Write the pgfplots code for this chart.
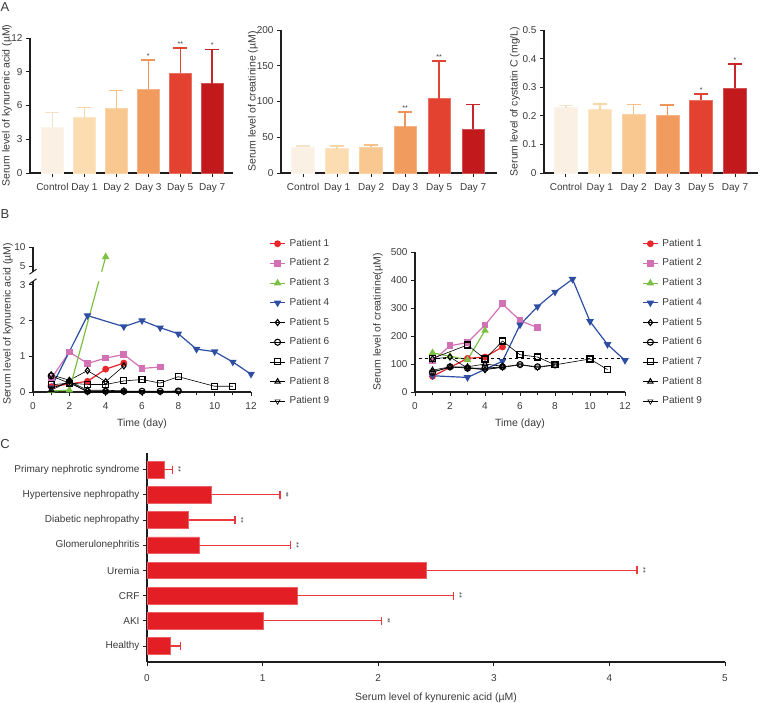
\documentclass[border=0pt]{standalone}
\usepackage{fontspec}
\setmainfont{Liberation Sans}
\usepackage{pgfplots}
\pgfplotsset{compat=1.18}

\definecolor{cA0}{HTML}{FAF0E4}
\definecolor{cA1}{HTML}{FCDDB1}
\definecolor{cA2}{HTML}{F9C790}
\definecolor{cA3}{HTML}{F19B5F}
\definecolor{cA5}{HTML}{E2422F}
\definecolor{cA7}{HTML}{C2191C}
\definecolor{eA0}{HTML}{F4E2CB}
\definecolor{eA1}{HTML}{FAD7A6}
\definecolor{eA2}{HTML}{F7C088}
\definecolor{eA3}{HTML}{F0955A}
\definecolor{eA5}{HTML}{E24434}
\definecolor{eA7}{HTML}{C92428}
\definecolor{pRed}{HTML}{E9262B}
\definecolor{pPink}{HTML}{D272B5}
\definecolor{pGreen}{HTML}{7CC143}
\definecolor{pBlue}{HTML}{2D4EA2}
\definecolor{axc}{HTML}{1E1E1E}
\definecolor{txt}{HTML}{3A3A3A}
\definecolor{barC}{HTML}{E41E25}
\definecolor{errC}{HTML}{EA3A40}

\newcommand{\fs}{\fontsize{10}{12}\selectfont}
\newcommand{\fl}{\fontsize{10.5}{12}\selectfont}

\tikzset{
  astar/.style={font=\fontsize{7}{7}\selectfont, text=txt, anchor=south, inner sep=1pt, yshift=0.5pt},
  cstar/.style={rotate=-90, font=\fontsize{7}{7}\selectfont, text=txt, anchor=south, inner sep=0pt, yshift=-1.5pt},
}

\pgfplotsset{
  common/.style={
    scale only axis, clip=false,
    axis x line*=bottom, axis y line*=left,
    axis line style={-, line width=1.1pt, color=axc},
    tick align=outside,
    major tick length=4pt, minor tick length=2.5pt,
    tick style={line width=1pt, color=axc},
    tick label style={font=\fs, color=txt},
    xticklabel style={yshift=-3pt},
    label style={font=\fl, color=txt},
    xlabel style={yshift=-2pt},
    /pgf/number format/assume math mode=true,
  },
  ylab/.style={ylabel style={at={([xshift=#1]axis description cs:0,0.5)}, anchor=center}},
  Abar/.style 2 args={ybar, bar shift=0pt, fill=#1, draw=#1!75!white, line width=0.6pt,
    /pgfplots/error bars/y dir=plus, /pgfplots/error bars/y explicit,
    /pgfplots/error bars/error bar style={line width=1.5pt, color=#2},
    /pgfplots/error bars/error mark options={rotate=90, line width=1.5pt, color=#2, mark size=7pt}},
  Aaxis/.style={common, anchor=south west, xtick={0,...,5},
    xticklabels={Control, Day 1, Day 2, Day 3, Day 5, Day 7}, ymin=0},
  colser/.style={line width=1.2pt, color=#1, mark options={fill=#1, draw=#1, solid}},
  blkser/.style={line width=0.6pt, color=black, mark size=3pt, mark options={fill=white, draw=black, line width=1.1pt, solid}},
  legB/.style={legend cell align=left,
    legend style={draw=none, fill=none, font=\fs, text=txt, row sep=8.7pt, anchor=north west,
      nodes={inner sep=1pt, text height=7pt, text depth=2pt},
      /tikz/every odd column/.append style={column sep=3pt}},
    legend image code/.code={\draw[mark repeat=2,mark phase=2,##1] plot coordinates {(0pt,0pt) (7.5pt,0pt) (15pt,0pt)};}},
}

\begin{document}
\begin{tikzpicture}
\path[use as bounding box] (0pt,0pt) rectangle (760pt,-702pt);

\node[font=\fontsize{13}{13}\selectfont, text=txt] at (5pt,-7pt) {A};
\node[font=\fontsize{13}{13}\selectfont, text=txt] at (5pt,-214pt) {B};
\node[font=\fontsize{13}{13}\selectfont, text=txt] at (5pt,-444pt) {C};

% ---------- A1 kynurenic acid
\begin{axis}[Aaxis, at={(30pt,-173pt)}, width=203pt, height=135pt, xmin=-0.7, xmax=5.65, ymax=12,
  ytick={0,3,6,9,12}, bar width=22pt, ylabel={Serum level of kynurenic acid (µM)}, ylab=-23pt]
\addplot[Abar={cA0}{eA0}] coordinates {(0,4.05) +- (0,1.35)};
\addplot[Abar={cA1}{eA1}] coordinates {(1,4.93) +- (0,0.90)};
\addplot[Abar={cA2}{eA2}] coordinates {(2,5.72) +- (0,1.60)};
\addplot[Abar={cA3}{eA3}] coordinates {(3,7.43) +- (0,2.62)};
\addplot[Abar={cA5}{eA5}] coordinates {(4,8.90) +- (0,2.19)};
\addplot[Abar={cA7}{eA7}] coordinates {(5,7.93) +- (0,3.07)};
\node[astar] at (axis cs:3,10.05) {*};
\node[astar] at (axis cs:4,11.09) {**};
\node[astar] at (axis cs:5,11.0) {*};
\end{axis}

% ---------- A2 creatinine
\begin{axis}[Aaxis, at={(281pt,-173pt)}, width=216pt, height=143pt, xmin=-0.65, xmax=5.7, ymax=200,
  ytick={0,50,...,200}, bar width=22.7pt, ylabel={Serum level of creatinine (µM)}, ylab=-28pt]
\addplot[Abar={cA0}{eA0}] coordinates {(0,36) +- (0,2)};
\addplot[Abar={cA1}{eA1}] coordinates {(1,34) +- (0,4)};
\addplot[Abar={cA2}{eA2}] coordinates {(2,36) +- (0,3)};
\addplot[Abar={cA3}{eA3}] coordinates {(3,65) +- (0,20)};
\addplot[Abar={cA5}{eA5}] coordinates {(4,104) +- (0,53)};
\addplot[Abar={cA7}{eA7}] coordinates {(5,61) +- (0,35)};
\node[astar] at (axis cs:3,85) {**};
\node[astar] at (axis cs:4,157) {**};
\end{axis}

% ---------- A3 cystatin C
\begin{axis}[Aaxis, at={(544pt,-173pt)}, width=214pt, height=143pt, xmin=-0.65, xmax=5.68, ymax=0.5,
  ytick={0,0.1,...,0.5}, bar width=23pt, ylabel={Serum level of cystatin C (mg/L)}, ylab=-29pt,
  yticklabel style={/pgf/number format/fixed}]
\addplot[Abar={cA0}{eA0}] coordinates {(0,0.228) +- (0,0.008)};
\addplot[Abar={cA1}{eA1}] coordinates {(1,0.222) +- (0,0.020)};
\addplot[Abar={cA2}{eA2}] coordinates {(2,0.205) +- (0,0.035)};
\addplot[Abar={cA3}{eA3}] coordinates {(3,0.202) +- (0,0.036)};
\addplot[Abar={cA5}{eA5}] coordinates {(4,0.255) +- (0,0.022)};
\addplot[Abar={cA7}{eA7}] coordinates {(5,0.296) +- (0,0.086)};
\node[astar] at (axis cs:4,0.277) {*};
\node[astar] at (axis cs:5,0.382) {*};
\end{axis}

% ---------- B left, lower part
\begin{axis}[common, legB, at={(33pt,-392pt)}, anchor=south west, width=218pt, height=110.7pt,
  xmin=0, xmax=12, ymin=0, ymax=3.1, xtick={0,2,...,12}, minor xtick={1,3,...,11}, ytick={0,1,2,3},
  xlabel={Time (day)}, legend style={at={(1.07,1.409)}}]
\addplot[colser=pRed, mark=*, mark size=2.8pt] coordinates {(1,0.15) (3,0.30) (4,0.64) (5,0.81)};
\addlegendentry{Patient 1}
\addplot[colser=pPink, mark=square*, mark size=2.8pt] coordinates {(1,0.37) (2,1.12) (3,0.80) (4,0.95) (5,1.05) (6,0.66) (7,0.70)};
\addlegendentry{Patient 2}
\addplot[colser=pGreen, mark=triangle*, mark size=3.2pt] coordinates {(1,0.03) (2,0.05)};
\addlegendentry{Patient 3}
\addplot[colser=pBlue, mark=triangle*, mark size=3.2pt, mark options={rotate=180}] coordinates {(1,0.12) (3,2.14) (5,1.83) (6,2.00) (7,1.80) (8,1.63) (9,1.20) (10,1.13) (11,0.84) (12,0.50)};
\addlegendentry{Patient 4}
\addplot[blkser, mark=diamond] coordinates {(1,0.48) (2,0.33) (3,0.60) (4,0.29) (5,0.73)};
\addlegendentry{Patient 5}
\addplot[blkser, mark=o] coordinates {(1,0.45) (2,0.25) (3,0.02) (4,0.02) (5,0.02) (6,0.02) (7,0.02) (8,0.03)};
\addlegendentry{Patient 6}
\addplot[blkser, mark=square] coordinates {(1,0.20) (2,0.25) (3,0.21) (4,0.21) (5,0.31) (6,0.35) (7,0.25) (8,0.43) (10,0.16) (11,0.16)};
\addlegendentry{Patient 7}
\addplot[blkser, mark=triangle] coordinates {(1,0.05) (2,0.30) (3,0.05) (4,0.05) (5,0.03)};
\addlegendentry{Patient 8}
\addplot[blkser, mark=triangle, mark options={rotate=180}] coordinates {(1,0.10) (2,0.28) (3,0.0) (4,0.0) (5,0.0) (6,0.0) (7,0.0) (8,0.02)};
\addlegendentry{Patient 9}
\addplot[line width=1.2pt, color=pGreen, no markers, forget plot] coordinates {(2,0.05) (3.62,3.1)};
\draw[axc, line width=1pt] ([xshift=-3.5pt,yshift=-2.5pt]rel axis cs:0,1) -- ([xshift=3.5pt,yshift=2.5pt]rel axis cs:0,1);
\end{axis}

% ---------- B left, upper part
\begin{axis}[common, at={(33pt,-271.7pt)}, anchor=south west, width=218pt, height=24.7pt,
  xmin=0, xmax=12, ymin=3.5, ymax=10, ytick={5,10}, axis x line=none, axis y line*=left]
\addplot[colser=pGreen, mark=triangle*, mark size=3.2pt, mark indices={2}] coordinates {(3.78,3.5) (4,7.4)};
\draw[axc, line width=1pt] ([xshift=-3.5pt,yshift=-2.5pt]rel axis cs:0,0) -- ([xshift=3.5pt,yshift=2.5pt]rel axis cs:0,0);
\end{axis}
\node[rotate=90, font=\fl, text=txt] at (8pt,-324pt) {Serum level of kynurenic acid (µM)};

% ---------- B right
\begin{axis}[common, legB, at={(415pt,-392pt)}, anchor=south west, width=210pt, height=140pt,
  xmin=0, xmax=12, ymin=0, ymax=500, xtick={0,2,...,12}, minor xtick={1,3,...,11}, ytick={0,100,...,500},
  xlabel={Time (day)}, ylabel={Serum level of creatinine(µM)}, ylab=-37pt, legend style={at={(1.067,1.114)}}]
\addplot[colser=pRed, mark=*, mark size=2.8pt] coordinates {(1,56) (3,120) (4,125) (5,161)};
\addlegendentry{Patient 1}
\addplot[colser=pPink, mark=square*, mark size=2.8pt] coordinates {(1,111) (2,165) (3,177) (4,239) (5,315) (6,255) (7,230)};
\addlegendentry{Patient 2}
\addplot[colser=pGreen, mark=triangle*, mark size=3.2pt] coordinates {(1,140) (2,128) (3,115) (4,220)};
\addlegendentry{Patient 3}
\addplot[colser=pBlue, mark=triangle*, mark size=3.2pt, mark options={rotate=180}] coordinates {(1,58) (3,52) (5,110) (6,240) (7,305) (8,357) (9,403) (10,252) (11,170) (12,113)};
\addlegendentry{Patient 4}
\addplot[blkser, mark=diamond] coordinates {(1,118) (2,125) (3,85) (4,80) (5,90)};
\addlegendentry{Patient 5}
\addplot[blkser, mark=o] coordinates {(1,70) (2,90) (3,85) (4,85) (5,90) (6,98) (7,90) (8,97)};
\addlegendentry{Patient 6}
\addplot[blkser, mark=square] coordinates {(1,120) (3,168) (4,118) (5,182) (6,133) (7,125) (8,97) (10,118) (11,80)};
\addlegendentry{Patient 7}
\addplot[blkser, mark=triangle] coordinates {(1,78) (2,90) (3,90) (4,100) (5,92)};
\addlegendentry{Patient 8}
\addplot[blkser, mark=triangle, mark options={rotate=180}] coordinates {(1,72) (2,88) (3,88) (4,80) (5,88) (6,97) (7,88) (8,96)};
\addlegendentry{Patient 9}
\addplot[black, dashed, line width=1.2pt, forget plot] coordinates {(0.2,120) (12.2,120)};
\end{axis}

% ---------- C
\begin{axis}[common, at={(147pt,-662pt)}, anchor=south west, width=578pt, height=209pt,
  xmin=0, xmax=5, ymin=-0.635, ymax=7.66, xtick={0,...,5}, ytick={0,...,7},
  xticklabel style={yshift=-2pt},
  yticklabels={Healthy, AKI, CRF, Uremia, Glomerulonephritis, Diabetic nephropathy, Hypertensive nephropathy, Primary nephrotic syndrome},
  xlabel={Serum level of kynurenic acid (µM)}, xlabel style={yshift=-2pt}, bar width=16.7pt]
\addplot[xbar, bar shift=0pt, fill=barC, draw=barC!70!white, line width=0.6pt,
  error bars/.cd, x dir=plus, x explicit, error bar style={line width=1.3pt, color=errC},
  error mark options={rotate=90, line width=1.3pt, color=errC, mark size=4pt}] coordinates {
  (0.20,0) +- (0.09,0)
  (1.01,1) +- (1.02,0)
  (1.30,2) +- (1.35,0)
  (2.42,3) +- (1.82,0)
  (0.45,4) +- (0.79,0)
  (0.36,5) +- (0.40,0)
  (0.56,6) +- (0.59,0)
  (0.15,7) +- (0.07,0)
};
\node[cstar] at ([xshift=5pt]axis cs:2.03,1) {**};
\node[cstar] at ([xshift=5pt]axis cs:2.65,2) {**};
\node[cstar] at ([xshift=5pt]axis cs:4.24,3) {**};
\node[cstar] at ([xshift=5pt]axis cs:1.24,4) {**};
\node[cstar] at ([xshift=5pt]axis cs:0.76,5) {**};
\node[cstar] at ([xshift=5pt]axis cs:1.15,6) {**};
\node[cstar] at ([xshift=5pt]axis cs:0.22,7) {**};
\end{axis}
\end{tikzpicture}
\end{document}
